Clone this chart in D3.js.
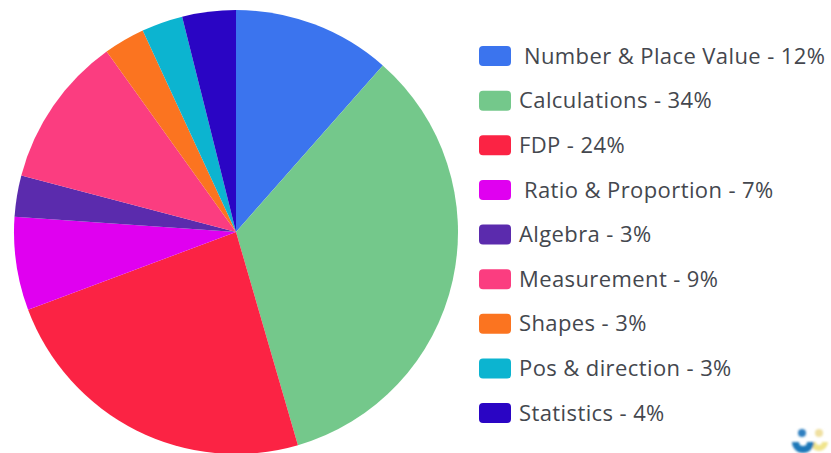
<!DOCTYPE html>
<html>
<head>
    <title>Maths topic weighting</title>
    <script src="https://d3js.org/d3.v7.min.js"></script>
    <style>
        html, body { margin: 0; padding: 0; background: #fff; overflow: hidden; }
        text { font-family: "Open Sans", "Noto Sans", sans-serif; fill: #44474e; letter-spacing: 0.4px; }
    </style>
</head>
<body>
    <svg id="chart" width="831" height="453"></svg>
    <script>
        // topics, the percent printed in the legend, and the share each slice really takes up
        const topics = ["Number & Place Value", "Calculations", "FDP", "Ratio & Proportion", "Algebra", "Measurement", "Shapes", "Pos & direction", "Statistics"];
        const legendPercents = [12, 34, 24, 7, 3, 9, 3, 3, 4];
        const sliceShares = [11.5, 34, 23.8, 6.8, 3, 11, 3, 3, 3.9];
        const colors = ["#3b74ee", "#74c88b", "#fb2344", "#e000f0", "#5b2bad", "#fb3d80", "#fb7420", "#0cb4d0", "#2a05c4"];
        const legendTextX = [524, 519, 519, 524, 519, 519, 519, 519, 519];

        const svg = d3.select("#chart");

        // Pie
        const radius = 222;
        const pieG = svg.append("g").attr("transform", "translate(236,232)");
        const pie = d3.pie().sort(null).value(d => d);
        const arc = d3.arc().innerRadius(0).outerRadius(radius);

        pieG.selectAll("path")
            .data(pie(sliceShares))
            .join("path")
            .attr("d", arc)
            .attr("fill", (d, i) => colors[i]);

        // Legend
        const y = d3.scalePoint().domain(topics).range([56, 413]);

        const rows = svg.append("g").selectAll("g")
            .data(topics)
            .join("g")
            .attr("transform", d => `translate(0,${y(d)})`);

        rows.append("rect")
            .attr("x", 479)
            .attr("y", -10)
            .attr("width", 32)
            .attr("height", 20)
            .attr("rx", 4)
            .attr("fill", (d, i) => colors[i]);

        rows.append("text")
            .attr("x", (d, i) => legendTextX[i])
            .attr("dy", "0.35em")
            .attr("font-size", 22)
            .text((d, i) => `${d} - ${legendPercents[i]}%`);

        // Small logo in the corner, two heads over two half rings
        const defs = svg.append("defs");
        defs.append("filter").attr("id", "soft")
            .append("feGaussianBlur").attr("stdDeviation", 0.8);

        const logo = svg.append("g").attr("filter", "url(#soft)");
        const smile = d3.arc().startAngle(Math.PI / 2).endAngle(Math.PI * 1.5);

        logo.append("circle").attr("cx", 819).attr("cy", 433).attr("r", 4).attr("fill", "#f0e0a0");
        logo.append("path")
            .attr("transform", "translate(819,442)")
            .attr("d", smile.innerRadius(3).outerRadius(9)())
            .attr("fill", "#f0e48c");
        logo.append("circle").attr("cx", 802).attr("cy", 433).attr("r", 4).attr("fill", "#2f7fc0");
        logo.append("path")
            .attr("transform", "translate(803,442)")
            .attr("d", smile.innerRadius(4).outerRadius(11)())
            .attr("fill", "#1f78b8");
    </script>
</body>
</html>
